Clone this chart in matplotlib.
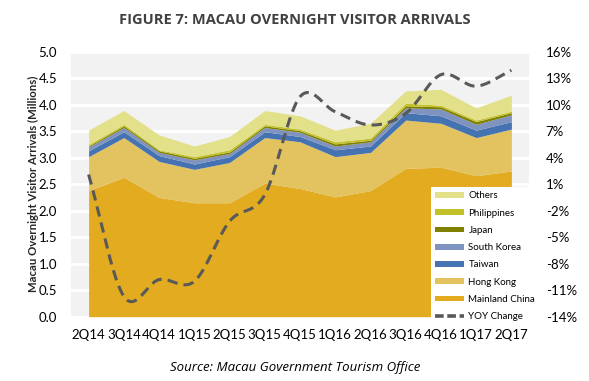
import matplotlib
matplotlib.use("Agg")
import matplotlib.pyplot as plt
import numpy as np
from matplotlib.patches import Patch
from matplotlib.lines import Line2D

quarters = ["2Q14", "3Q14", "4Q14", "1Q15", "2Q15", "3Q15", "4Q15",
            "1Q16", "2Q16", "3Q16", "4Q16", "1Q17", "2Q17"]

# cumulative tops (millions)
mainland_top = [2.38, 2.63, 2.25, 2.15, 2.15, 2.52, 2.42, 2.26, 2.38, 2.80, 2.82, 2.66, 2.75]
hongkong_top = [3.02, 3.38, 2.93, 2.78, 2.91, 3.38, 3.30, 3.02, 3.10, 3.71, 3.65, 3.38, 3.54]
taiwan_top   = [3.13, 3.49, 3.04, 2.88, 3.02, 3.49, 3.40, 3.15, 3.22, 3.85, 3.79, 3.52, 3.68]
korea_top    = [3.20, 3.57, 3.10, 2.96, 3.08, 3.57, 3.48, 3.22, 3.30, 3.94, 3.92, 3.63, 3.81]
japan_top    = [3.22, 3.60, 3.13, 2.99, 3.11, 3.60, 3.51, 3.26, 3.33, 3.98, 3.96, 3.68, 3.85]
phil_top     = [3.25, 3.63, 3.15, 3.02, 3.15, 3.63, 3.54, 3.30, 3.37, 4.03, 3.99, 3.71, 3.88]
others_top   = [3.52, 3.89, 3.43, 3.22, 3.40, 3.89, 3.79, 3.52, 3.65, 4.26, 4.29, 3.94, 4.18]

yoy = [2.1, -11.7, -9.8, -10.0, -3.2, -0.2, 10.9, 9.2, 7.7, 9.0, 13.4, 12.1, 13.9]

series_names = ["Mainland China", "Hong Kong", "Taiwan", "South Korea", "Japan", "Philippines", "Others"]
series_tops = [mainland_top, hongkong_top, taiwan_top, korea_top, japan_top, phil_top, others_top]
colors = ["#E2AB20", "#E2C35F", "#4573B1", "#7F93C1", "#7F7F00", "#C2C12A", "#E3E08A"]

fig = plt.figure(figsize=(5.89, 3.81), dpi=100)
fig.patch.set_facecolor("white")
W, H = 589, 381
L, R, T, B = 71, 529, 51.7, 316.7
ax = fig.add_axes([L / W, 1 - B / H, (R - L) / W, (B - T) / H])
ax.set_facecolor("#F2F2F2")

x = np.arange(len(quarters))
prev = np.zeros(len(quarters))
for name, top, c in zip(series_names, series_tops, colors):
    top = np.array(top)
    ax.fill_between(x, prev, top, color=c, linewidth=0, zorder=2)
    prev = top

ax.set_xlim(-0.5, len(quarters) - 0.5)
ax.set_ylim(0, 5)
ax.set_yticks(np.arange(0, 5.01, 0.5))
ax.set_yticklabels([f"{v:.1f}" for v in np.arange(0, 5.01, 0.5)])
ax.yaxis.grid(True, color="white", linewidth=2, zorder=1)
ax.set_axisbelow(True)
for s in ax.spines.values():
    s.set_visible(False)
ax.tick_params(axis="both", length=0, labelsize=9, colors="#000000")
ax.tick_params(axis="y", pad=10)
ax.tick_params(axis="x", pad=9)
ax.set_xticks(x)
ax.set_xticklabels(quarters, fontfamily="Lato", fontsize=9.5)
for lbl in ax.get_yticklabels():
    lbl.set_fontfamily("Lato")
    lbl.set_fontsize(9.5)
ax.set_ylabel("Macau Overnight Visitor Arrivals (Millions)", fontfamily="Lato",
              fontweight="bold", fontsize=8.2, color="#262626")
ax.yaxis.set_label_coords((39 - L) / (R - L), 0.5)

# secondary axis
ax2 = ax.twinx()
ax2.set_ylim(-14, 16)
yt = np.arange(-14, 16.1, 3)
ax2.set_yticks(yt)
ax2.set_yticklabels([f"{int(v)}%" for v in yt], fontfamily="Lato", fontsize=9.5)
ax2.tick_params(axis="y", length=0, pad=12)
for s in ax2.spines.values():
    s.set_visible(False)

# smooth (Catmull-Rom) rendering of the YoY line
def catmull_rom(xs, ys, n=30):
    xs = np.asarray(xs, float); ys = np.asarray(ys, float)
    px = np.concatenate([[2 * xs[0] - xs[1]], xs, [2 * xs[-1] - xs[-2]]])
    py = np.concatenate([[2 * ys[0] - ys[1]], ys, [2 * ys[-1] - ys[-2]]])
    ox, oy = [], []
    for i in range(1, len(px) - 2):
        t = np.linspace(0, 1, n, endpoint=False)
        for arr, out in ((px, ox), (py, oy)):
            p0, p1, p2, p3 = arr[i - 1], arr[i], arr[i + 1], arr[i + 2]
            out.extend(0.5 * ((2 * p1) + (-p0 + p2) * t + (2 * p0 - 5 * p1 + 4 * p2 - p3) * t ** 2
                              + (-p0 + 3 * p1 - 3 * p2 + p3) * t ** 3))
    ox.append(xs[-1]); oy.append(ys[-1])
    return np.array(ox), np.array(oy)

sx, sy = catmull_rom(x, yoy)
ax2.plot(sx, sy, color="#595959", linewidth=2.2, dashes=(3.4, 2.0), zorder=3,
         solid_capstyle="butt", dash_capstyle="butt")

# legend
handles = [Patch(facecolor=c, edgecolor="none") for c in colors[::-1]]
labels = series_names[::-1]
handles.append(Line2D([0], [0], color="#595959", linewidth=2.6, dashes=(2.4, 1.0),
                      dash_capstyle="butt"))
labels.append("YOY Change")
leg = fig.legend(handles, labels, loc="upper left",
                 bbox_to_anchor=(431 / W, 1 - 187 / H), frameon=True,
                 prop={"family": "Lato", "size": 7}, handlelength=2.9, handleheight=0.55,
                 labelspacing=0.85, borderpad=0.45, handletextpad=0.5, borderaxespad=0)
leg.get_frame().set_facecolor("white")
leg.get_frame().set_edgecolor("none")
leg.get_frame().set_boxstyle("square", pad=0)
leg.get_frame().set_alpha(1)
leg.set_zorder(10)

fig.text(295 / W, 1 - 20 / H, "FIGURE 7: MACAU OVERNIGHT VISITOR ARRIVALS",
         ha="center", va="center", fontfamily="Open Sans", fontweight="bold",
         fontsize=10.5, color="#404040")
fig.text(295 / W, 1 - 367 / H, "Source: Macau Government Tourism Office",
         ha="center", va="center", fontfamily="Open Sans", fontstyle="italic",
         fontsize=9.5, color="#000000")

fig.savefig("out.png", dpi=100, facecolor="white")
